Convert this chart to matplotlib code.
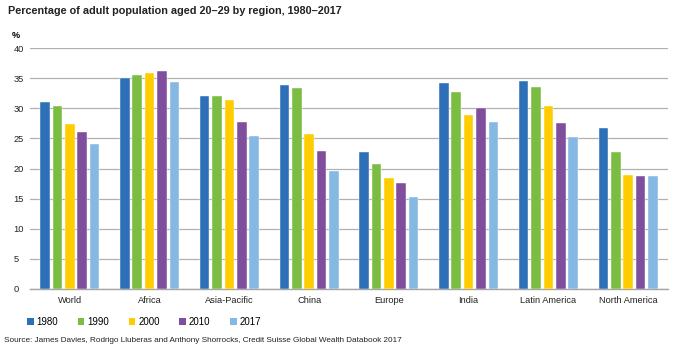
import numpy as np
import matplotlib.pyplot as plt
from matplotlib.patches import Patch

regions = ['World', 'Africa', 'Asia-Pacific', 'China', 'Europe', 'India',
           'Latin America', 'North America']
years = ['1980', '1990', '2000', '2010', '2017']
v1980 = [31.0, 35.0, 32.0, 33.9, 22.8, 34.2, 34.5, 26.7]
v1990 = [30.4, 35.5, 32.0, 33.4, 20.8, 32.7, 33.5, 22.8]
v2000 = [27.4, 35.9, 31.4, 25.7, 18.5, 28.8, 30.4, 19.0]
v2010 = [26.1, 36.1, 27.7, 22.9, 17.6, 30.0, 27.5, 18.7]
v2017 = [24.1, 34.3, 25.4, 19.6, 15.3, 27.8, 25.2, 18.7]
series = [v1980, v1990, v2000, v2010, v2017]
colors = ['#2E70B8', '#7BBD42', '#FFCC00', '#7F4F9E', '#85B8E3']

plt.rcParams['font.family'] = ['Liberation Sans', 'DejaVu Sans']

fig = plt.figure(figsize=(6.76, 3.53), dpi=100)
ax = fig.add_axes([30 / 676, 1 - 289 / 353, 638 / 676, 241 / 353])

x = np.arange(len(regions))
step = 0.155
w = 0.12
for i, (vals, c) in enumerate(zip(series, colors)):
    ax.bar(x + (i - 2) * step, vals, width=w, color=c, zorder=3,
           edgecolor='white', linewidth=0.3)

ax.set_xlim(-0.5, len(regions) - 0.5)
ax.set_ylim(0, 40)
ax.set_yticks(range(0, 41, 5))
ax.set_xticks(x)
ax.set_xticklabels(regions)
ax.tick_params(length=0, labelsize=6.7, colors='#222222')
ax.tick_params(axis='y', pad=12)
ax.tick_params(axis='x', pad=5)
for lbl in ax.get_yticklabels():
    lbl.set_horizontalalignment('left')
ax.yaxis.grid(True, color='#B0B0B0', linewidth=0.9, zorder=0)
for s in ['top', 'right', 'left']:
    ax.spines[s].set_visible(False)
ax.spines['bottom'].set_color('#A6A6A6')
ax.spines['bottom'].set_linewidth(1.0)

fig.text(8 / 676, 1 - 11 / 353, 'Percentage of adult population aged 20\u201329 by region, 1980\u20132017',
         fontsize=7.8, fontweight='bold', va='center', ha='left', color='#222222')
fig.text(12 / 676, 1 - 35 / 353, '%', fontsize=6.5, fontweight='bold', va='center', ha='left')

handles = [Patch(facecolor=c, label=y) for c, y in zip(colors, years)]
fig.legend(handles=handles, loc='center left', bbox_to_anchor=(22 / 676, 1 - 322 / 353),
           ncol=5, frameon=False, fontsize=7, handlelength=0.7, handleheight=0.7,
           handletextpad=0.3, columnspacing=2.0, borderpad=0)

fig.text(4 / 676, 1 - 340 / 353,
         'Source: James Davies, Rodrigo Lluberas and Anthony Shorrocks, Credit Suisse Global Wealth Databook 2017',
         fontsize=5.9, va='center', ha='left', color='#222222')

plt.savefig('out.png', dpi=100)
